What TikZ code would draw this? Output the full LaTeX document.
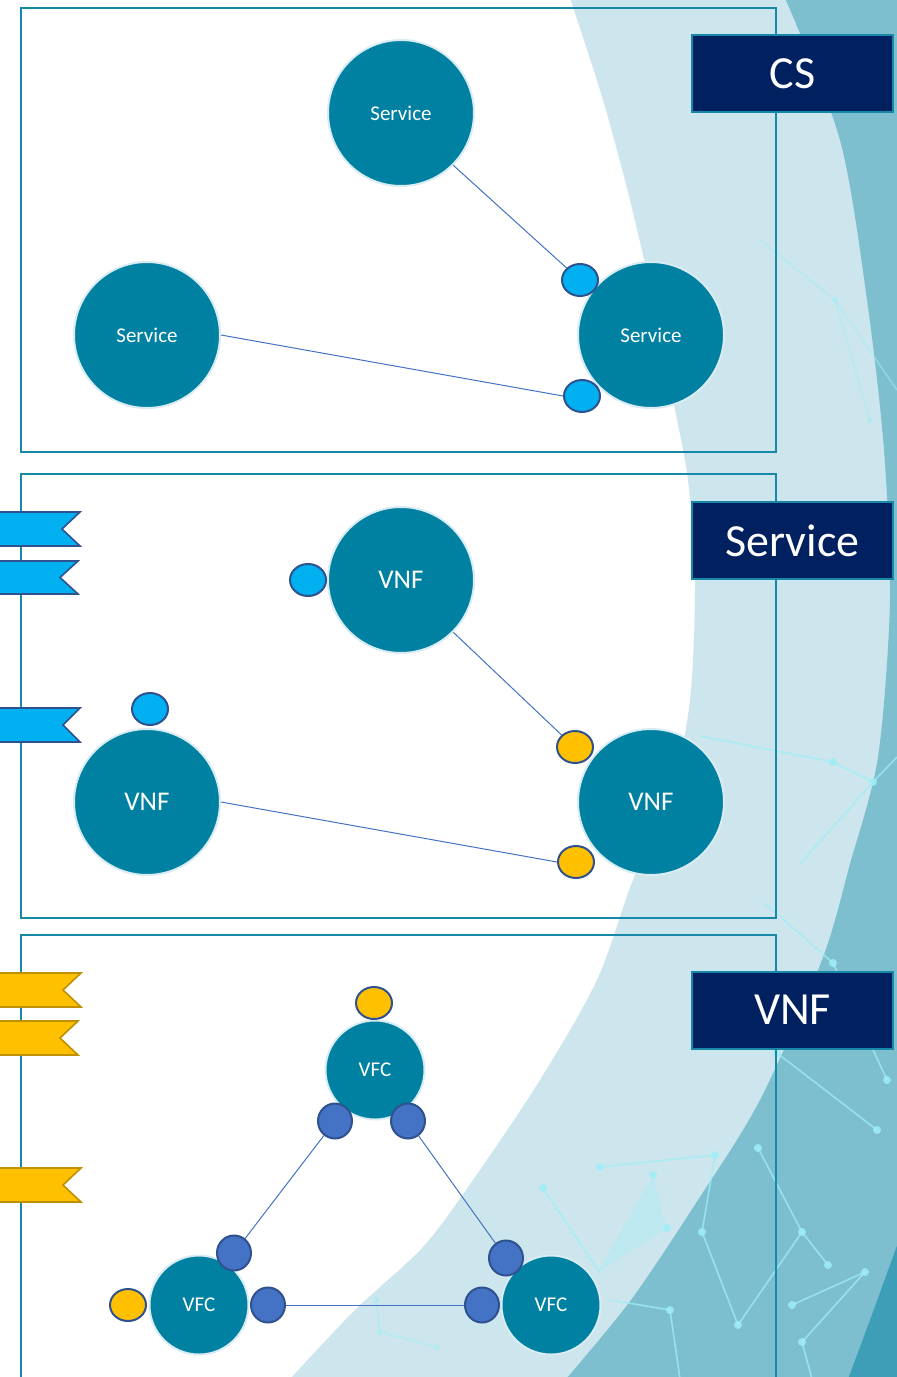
\documentclass[tikz,border=0pt]{standalone}
\usepackage{fontspec}
\setmainfont{Carlito}
\usetikzlibrary{shapes.geometric}

\definecolor{framec}{RGB}{24,136,168}
\definecolor{nodec}{RGB}{0,129,161}
\definecolor{nodeedge}{RGB}{218,236,243}
\definecolor{navy}{RGB}{0,32,96}
\definecolor{portedge}{RGB}{47,82,143}
\definecolor{cyanport}{RGB}{0,176,240}
\definecolor{goldport}{RGB}{255,192,0}
\definecolor{goldedge}{RGB}{191,144,0}
\definecolor{blueport}{RGB}{68,114,196}
\definecolor{linkc}{RGB}{68,114,196}
\definecolor{bglight}{RGB}{205,229,237}
\definecolor{bgmid}{RGB}{125,191,207}
\definecolor{bgdark}{RGB}{62,158,184}
\definecolor{netc}{RGB}{160,238,246}

\begin{document}
\begin{tikzpicture}[x=1pt,y=-1pt,
  bigc/.style={circle, fill=nodec, draw=nodeedge, line width=2pt, text=white,
    minimum size=146pt, inner sep=0pt, font=\fontsize{21}{25}\selectfont},
  vnfc/.style={bigc, font=\fontsize{27}{31}\selectfont},
  vfcc/.style={bigc, minimum size=99pt, font=\fontsize{21}{25}\selectfont},
  port/.style={ellipse, draw=portedge, line width=2pt, minimum width=36pt,
    minimum height=32pt, inner sep=0pt},
  cport/.style={port, fill=cyanport},
  yport/.style={port, fill=goldport},
  bport/.style={port, fill=blueport, minimum width=34pt, minimum height=35pt},
  link/.style={draw=linkc, line width=1pt},
  frame/.style={draw=framec, line width=2.2pt},
  tag/.style={rectangle, fill=navy, draw=framec, line width=2pt,
    minimum width=201pt, minimum height=77pt, inner sep=0pt, text=white,
    font=\fontsize{46}{50}\selectfont},
  cribbon/.style={fill=cyanport, draw=portedge, line width=1.6pt, line join=miter},
  yribbon/.style={fill=goldport, draw=goldedge, line width=1.6pt, line join=miter},
  net/.style={draw=netc, line width=1.6pt, opacity=0.75},
  netdot/.style={fill=netc, opacity=0.85}
]
\useasboundingbox (0,0) rectangle (897,1377);

% background bands
\fill[white] (0,0) rectangle (897,1377);
\fill[bglight] plot[smooth] coordinates {(570,-2) (603,100) (630,200) (653,300)
  (673,400) (688,480) (695,580) (690,700) (670,800) (633,880) (597,980)
  (540,1080) (473,1180) (423,1247) (355,1310) (290,1379)}
  -- (899,1379) -- (899,-2) -- cycle;
\fill[bgmid] plot[smooth] coordinates {(785,-2) (840,140) (867,300) (884,450) (890,600)
  (878,757) (850,864) (822,960) (760,1100) (698,1200) (631,1300) (566,1379)}
  -- (899,1379) -- (899,-2) -- cycle;
\fill[bgdark] plot[smooth] coordinates {(899,1240) (870,1320) (848,1379)}
  -- (899,1379) -- cycle;

% network decoration
\fill[netc, opacity=0.35] (653,1175) -- (667,1228) -- (597,1273) -- cycle;
\draw[net] (758,1148) -- (802,1232) -- (828,1265);
\draw[net] (802,1232) -- (738,1325) -- (702,1232) -- (715,1155) -- (600,1167);
\draw[net] (543,1188) -- (600,1273);
\draw[net] (865,1272) -- (792,1305);
\draw[net] (865,1272) -- (802,1342) -- (812,1379);
\draw[net] (765,903) -- (833,963) -- (887,1080);
\draw[net] (777,1053) -- (877,1130);
\draw[net] (610,1300) -- (670,1310) -- (680,1379);
\draw[net, opacity=0.5] (376,1300) -- (380,1332) -- (437,1347);
\draw[net] (700,736) -- (833,762) -- (873,782) -- (897,757);
\draw[net] (873,782) -- (800,864);
\draw[net, opacity=0.5] (760,240) -- (835,300) -- (897,390);
\draw[net, opacity=0.5] (835,300) -- (870,420);
\foreach \p in {(758,1148),(802,1232),(828,1265),(738,1325),(702,1232),(715,1155),
  (600,1167),(543,1188),(865,1272),(792,1305),(802,1342),(833,963),(887,1080),
  (877,1130),(777,1053),(670,1310),(873,782),(833,762),(653,1175),(667,1228)}
  \fill[netdot] \p circle (4);
\foreach \p in {(376,1300),(380,1332),(437,1347),(835,300),(870,420)}
  \fill[netdot, opacity=0.5] \p circle (3);

% section frames
\draw[frame] (21,8) rectangle (776,452);
\draw[frame] (21,474) rectangle (776,918);
\draw[frame] (21,1385) -- (21,935) -- (776,935) -- (776,1385);

% level tags
\node[tag] (tagcs) at (792.5,73.5) {CS};
\node[tag] (tagsvc) at (792.5,540.5) {Service};
\node[tag] (tagvnf) at (792.5,1010) {VNF};

% left ribbons
\draw[cribbon] (-3,512) -- (80,512) -- (62,529) -- (80,546) -- (-3,546) -- cycle;
\draw[cribbon] (-3,561) -- (78,561) -- (60,577.5) -- (78,594) -- (-3,594) -- cycle;
\draw[cribbon] (-3,708) -- (80,708) -- (63,725) -- (80,742) -- (-3,742) -- cycle;
\draw[yribbon] (-3,973) -- (81,973) -- (63,990) -- (81,1007) -- (-3,1007) -- cycle;
\draw[yribbon] (-3,1021) -- (78,1021) -- (60,1038) -- (78,1055) -- (-3,1055) -- cycle;
\draw[yribbon] (-3,1168) -- (81,1168) -- (63,1185) -- (81,1202) -- (-3,1202) -- cycle;

% CS level: services
\node[bigc] (s1) at (401,113) {Service};
\node[bigc] (s2) at (147,335) {Service};
\node[bigc] (s3) at (651,335) {Service};
\node[cport] (sp1) at (580,280) {};
\node[cport] (sp2) at (582,396) {};
\draw[link] (s1.south east) -- (sp1.north west);
\draw[link] (s2.east) -- (sp2.west);

% Service level: VNFs
\node[vnfc] (v1) at (401,580) {VNF};
\node[vnfc] (v2) at (147,802) {VNF};
\node[vnfc] (v3) at (651,802) {VNF};
\node[cport] (vc1) at (308,580) {};
\node[cport] (vc2) at (150,709) {};
\node[yport] (vp1) at (575,747) {};
\node[yport] (vp2) at (576,862) {};
\draw[link] (v1.south east) -- (vp1.north west);
\draw[link] (v2.east) -- (vp2.west);

% VNF level: VFCs
\node[vfcc] (f1) at (375,1070) {VFC};
\node[vfcc] (f2) at (199,1305) {VFC};
\node[vfcc] (f3) at (551,1305) {VFC};
\node[yport] (fy1) at (374,1003) {};
\node[yport] (fy2) at (128,1305) {};
\node[bport] (fa) at (335,1121) {};
\node[bport] (fb) at (408,1121) {};
\node[bport] (fc) at (234,1253) {};
\node[bport] (fd) at (268,1305) {};
\node[bport] (fe) at (506,1258) {};
\node[bport] (ff) at (482,1305) {};
\draw[link] (fa) -- (fc);
\draw[link] (fb) -- (fe);
\draw[link] (fd) -- (ff);
\end{tikzpicture}
\end{document}
